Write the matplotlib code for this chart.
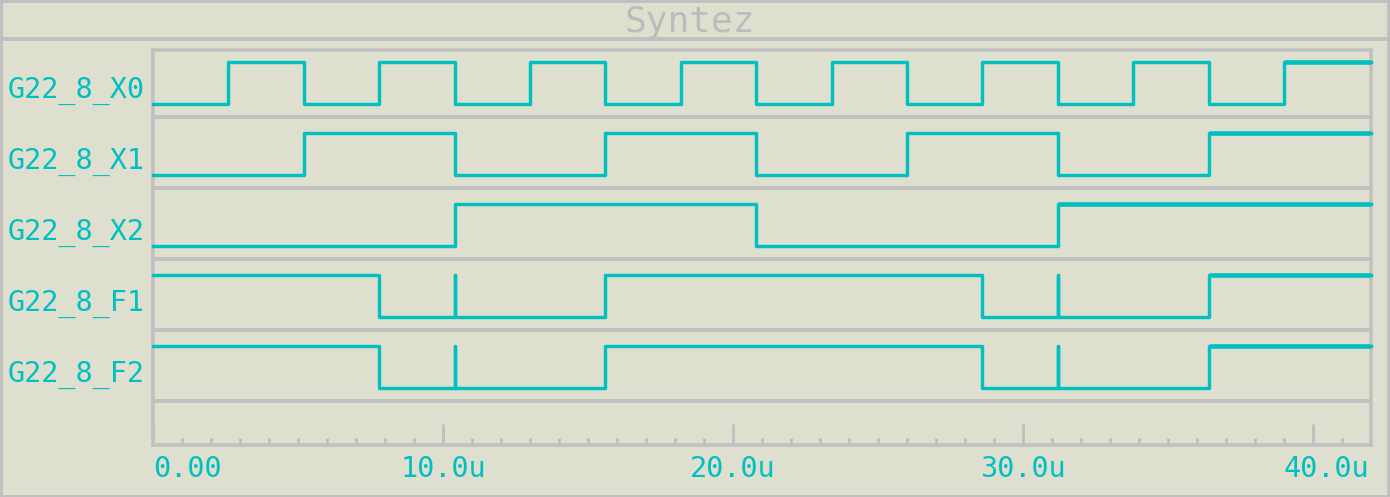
import numpy as np
import matplotlib.pyplot as plt
from matplotlib.transforms import blended_transform_factory


# Chart data (times in microseconds, logic levels 0/1)
title_string = 'Syntez'
signal_names = ['G22_8_X0', 'G22_8_X1', 'G22_8_X2', 'G22_8_F1', 'G22_8_F2']

x0_times = [0.0, 2.6, 5.2, 7.8, 10.4, 13.0, 15.6, 18.2, 20.8, 23.4, 26.0, 28.6, 31.2, 33.8, 36.4, 39.0]
x0_levels = [0, 1, 0, 1, 0, 1, 0, 1, 0, 1, 0, 1, 0, 1, 0, 1]
x1_times = [0.0, 5.2, 10.4, 15.6, 20.8, 26.0, 31.2, 36.4]
x1_levels = [0, 1, 0, 1, 0, 1, 0, 1]
x2_times = [0.0, 10.4, 20.8, 31.2]
x2_levels = [0, 1, 0, 1]
f1_times = [0.0, 7.8, 10.4, 10.4, 15.6, 28.6, 31.2, 31.2, 36.4]
f1_levels = [1, 0, 1, 0, 1, 0, 1, 0, 1]
f2_times = [0.0, 7.8, 10.4, 10.4, 15.6, 28.6, 31.2, 31.2, 36.4]
f2_levels = [1, 0, 1, 0, 1, 0, 1, 0, 1]

t_end = 42.0
tick_values = [0, 10, 20, 30, 40]
tick_labels = ['0.00', '10.0u', '20.0u', '30.0u', '40.0u']

signals = [(x0_times, x0_levels), (x1_times, x1_levels), (x2_times, x2_levels),
           (f1_times, f1_levels), (f2_times, f2_levels)]

# Styling
bg_col = '#dfdfd0'
grey = '#c0c0c0'
cyan = '#00c0c0'
font = 'DejaVu Sans Mono'
W, H = 1390, 497
px = 72.0 / 100  # one pixel in points

# row layout in pixels below the top of the plot box
row_pitch = 71
row_top0 = -2
high_off = 13.5
low_off = 55.5
sep_off = 69

fig = plt.figure(figsize=(W / 100, H / 100), dpi=100)
fig.patch.set_facecolor(bg_col)

# Frame around the whole window
bg = fig.add_axes([0, 0, 1, 1])
bg.set_xlim(0, W)
bg.set_ylim(H, 0)
bg.axis('off')
bg.axhline(1, color=grey, lw=3 * px)
bg.axhline(495.5, color=grey, lw=3 * px)
bg.axvline(1, color=grey, lw=3 * px)
bg.axvline(1388, color=grey, lw=3 * px)
bg.axhline(39, color=grey, lw=4 * px)
fig.text(690 / W, (H - 32) / H, title_string, color='#bcbcbc', fontsize=26,
         family=font, ha='center', va='baseline')

# Plot box
left, right, top, bottom = 153, 1371, 50, 445.3
ax = fig.add_axes([left / W, (H - bottom) / H, (right - left) / W, (bottom - top) / H])
ax.set_facecolor('none')
ax.set_xlim(0, t_end)
ax.set_ylim(bottom - top, 0)
for s in ax.spines.values():
    s.set_color(grey)
    s.set_linewidth(3.5 * px)

ax.set_yticks([])
ax.set_xticks(tick_values)
ax.set_xticks(np.arange(0, t_end, 1), minor=True)
ax.tick_params(axis='x', which='major', direction='in', length=21 * px, width=3 * px,
               color=grey, labelbottom=False)
ax.tick_params(axis='x', which='minor', direction='in', length=7 * px, width=3 * px,
               color=grey)

label_tr = blended_transform_factory(fig.transFigure, ax.transData)
for i, (name, (times, levels)) in enumerate(zip(signal_names, signals)):
    row_top = row_top0 + i * row_pitch
    ax.axhline(row_top + sep_off, color=grey, lw=4 * px, zorder=1)
    t = list(times) + [t_end]
    lv = list(levels) + [levels[-1]]
    y = [row_top + high_off + (1 - v) * (low_off - high_off) for v in lv]
    ax.plot(t, y, drawstyle='steps-post', color=cyan, lw=3.4 * px, zorder=3, clip_on=False)
    # last segment drawn a bit heavier, as in the viewer
    ax.plot(t[-2:], y[-2:], color=cyan, lw=4.5 * px, zorder=3, solid_capstyle='butt')
    ax.text(8 / W, row_top + 50, name, transform=label_tr, color=cyan, fontsize=20.5,
            family=font, ha='left', va='baseline')

# Tick labels, kept inside the plot box at both ends
tick_tr = blended_transform_factory(ax.transData, fig.transFigure)
for i, (v, lab) in enumerate(zip(tick_values, tick_labels)):
    if i == 0:
        xpos, ha = v, 'left'
    elif i == len(tick_values) - 1:
        xpos, ha = t_end - 0.05, 'right'
    else:
        xpos, ha = v, 'center'
    ax.text(xpos, (H - 477) / H, lab, transform=tick_tr, color=cyan, fontsize=20.5,
            family=font, ha=ha, va='baseline')

plt.savefig('out.png', dpi=100, facecolor=bg_col)
plt.close()
